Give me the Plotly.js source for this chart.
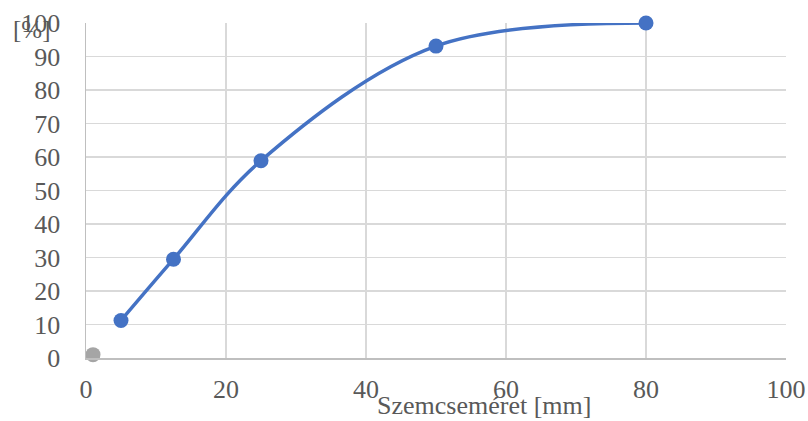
<!DOCTYPE html>
<html>
<head>
<meta charset="utf-8">
<script src="https://cdn.plot.ly/plotly-3.0.1.min.js"></script>
<style>html,body{margin:0;padding:0;background:#fff;}#chart{width:808px;height:421px;}</style>
</head>
<body>
<div id="chart"></div>
<script>
const sizeMm = [5, 12.5, 25, 50, 80];
const passingPct = [11.2, 29.5, 58.9, 93.1, 100];
const greyX = [1];
const greyY = [1];
const xTicks = [0, 20, 40, 60, 80, 100];
const yTicks = [0, 10, 20, 30, 40, 50, 60, 70, 80, 90, 100];
const xTitle = 'Szemcseméret [mm]';
const yTitle = '[%]';

const tickFont = {family: 'Liberation Serif', size: 26, color: '#595959'};
const titleFont = {family: 'Liberation Serif', size: 26, color: '#595959'};
const yTitleFont = {family: 'Liberation Serif', size: 25, color: '#595959'};

const traces = [
  {x: greyX, y: greyY, mode: 'markers', type: 'scatter',
   marker: {color: '#A5A5A5', size: 15}, cliponaxis: false, hoverinfo: 'skip'},
  {x: sizeMm, y: passingPct, mode: 'lines+markers', type: 'scatter',
   line: {color: '#4472C4', width: 3.5, shape: 'spline', smoothing: 1},
   marker: {color: '#4472C4', size: 15}, cliponaxis: false}
];

const layout = {
  width: 808, height: 421,
  margin: {l: 86, r: 22, t: 23, b: 63},
  paper_bgcolor: '#fff', plot_bgcolor: '#fff',
  showlegend: false,
  font: tickFont,
  xaxis: {range: [0, 100], tickvals: xTicks, ticktext: xTicks.map(String),
    showgrid: true, gridcolor: '#D9D9D9', gridwidth: 1.5, zeroline: false,
    showline: true, linecolor: '#BFBFBF', linewidth: 1.5,
    ticks: 'outside', ticklen: 7, tickcolor: 'rgba(0,0,0,0)', tickfont: tickFont},
  yaxis: {range: [0, 100], tickvals: yTicks, ticktext: yTicks.map(String),
    showgrid: true, gridcolor: '#D9D9D9', gridwidth: 1.5, zeroline: false,
    showline: true, linecolor: '#BFBFBF', linewidth: 1.5,
    ticks: 'outside', ticklen: 19, tickcolor: 'rgba(0,0,0,0)', tickfont: tickFont},
  annotations: [
    {text: xTitle, xref: 'paper', yref: 'paper', x: 0.5686, y: 0, yshift: -47,
     xanchor: 'center', yanchor: 'middle', showarrow: false, font: titleFont},
    {text: yTitle, xref: 'paper', yref: 'paper', x: 0, xshift: -75, y: 1, yshift: 9,
     xanchor: 'left', yanchor: 'top', showarrow: false, font: yTitleFont}
  ]
};

Plotly.newPlot('chart', traces, layout, {displayModeBar: false, staticPlot: true});
</script>
</body>
</html>
